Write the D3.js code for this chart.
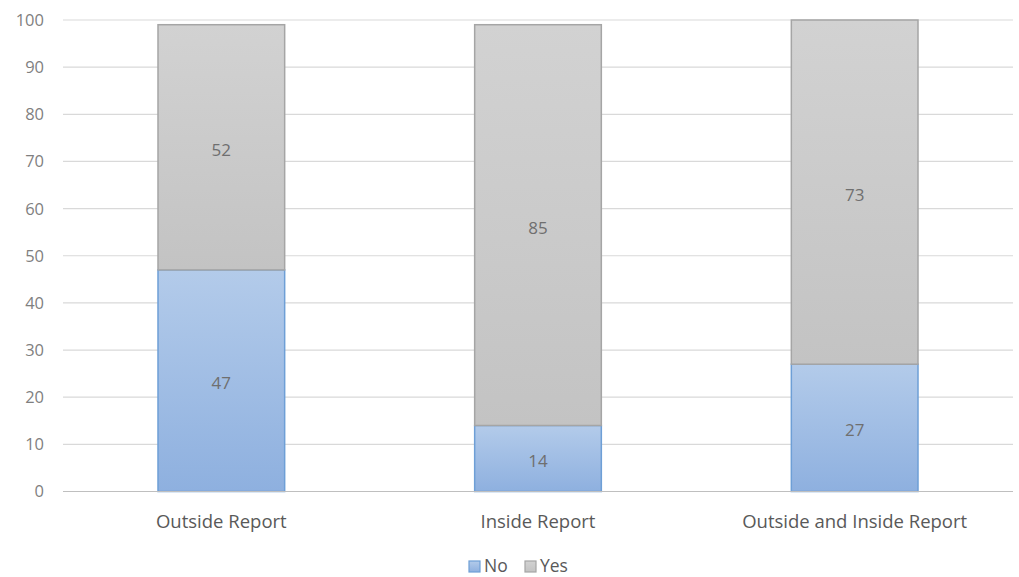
<!DOCTYPE html>
<html>
<head>
<meta charset="utf-8">
<script src="https://cdn.jsdelivr.net/npm/d3@7"></script>
<style>
  html, body { margin: 0; padding: 0; background: #fff; }
  svg { display: block; font-family: "Open Sans", Lato, sans-serif; }
</style>
</head>
<body>
<svg id="chart" width="1019" height="577"></svg>
<script>
const categories = ["Outside Report", "Inside Report", "Outside and Inside Report"];
const noValues = [47, 14, 27];
const yesValues = [52, 85, 73];
const yTicks = [0, 10, 20, 30, 40, 50, 60, 70, 80, 90, 100];
const seriesNames = ["No", "Yes"];

const svg = d3.select("#chart");
const margin = { left: 63, right: 6, top: 20, bottom: 85.5 };
const W = 1019, H = 577;

const x = d3.scaleBand().domain(categories).range([margin.left, W - margin.right]).paddingInner(0.6).paddingOuter(0.3);
const y = d3.scaleLinear().domain([0, 100]).range([H - margin.bottom, margin.top]);

const defs = svg.append("defs");
const blue = defs.append("linearGradient").attr("id", "gBlue").attr("x1", 0).attr("y1", 0).attr("x2", 0).attr("y2", 1);
blue.append("stop").attr("offset", "0%").attr("stop-color", "#b3cbea");
blue.append("stop").attr("offset", "100%").attr("stop-color", "#8eb0df");
const gray = defs.append("linearGradient").attr("id", "gGray").attr("x1", 0).attr("y1", 0).attr("x2", 0).attr("y2", 1);
gray.append("stop").attr("offset", "0%").attr("stop-color", "#d2d2d2");
gray.append("stop").attr("offset", "100%").attr("stop-color", "#c3c3c3");

// gridlines
svg.append("g").selectAll("line").data(yTicks.filter(d => d > 0)).join("line")
  .attr("x1", margin.left).attr("x2", W - margin.right)
  .attr("y1", d => y(d)).attr("y2", d => y(d))
  .attr("stroke", "#d9d9d9").attr("stroke-width", 1.2);

// y axis labels
svg.append("g").selectAll("text").data(yTicks).join("text")
  .attr("x", 44).attr("y", d => y(d)).attr("dy", "0.36em")
  .attr("text-anchor", "end").attr("fill", "#7f7f7f").attr("font-size", 16.5)
  .text(d => d);

const stacked = categories.map((c, i) => ({ c, no: noValues[i], yes: yesValues[i] }));

// No segments
svg.append("g").selectAll("rect").data(stacked).join("rect")
  .attr("x", d => x(d.c)).attr("width", x.bandwidth())
  .attr("y", d => y(d.no)).attr("height", d => y(0) - y(d.no))
  .attr("fill", "url(#gBlue)").attr("stroke", "#6e9fd6").attr("stroke-width", 1.5);

// Yes segments
svg.append("g").selectAll("rect").data(stacked).join("rect")
  .attr("x", d => x(d.c)).attr("width", x.bandwidth())
  .attr("y", d => y(d.no + d.yes)).attr("height", d => y(d.no) - y(d.no + d.yes))
  .attr("fill", "url(#gGray)").attr("stroke", "#a5a5a5").attr("stroke-width", 1.5);

// x axis line
svg.append("line").attr("x1", margin.left).attr("x2", W - margin.right)
  .attr("y1", y(0)).attr("y2", y(0)).attr("stroke", "#bfbfbf").attr("stroke-width", 1.2);

// value labels
const labelG = svg.append("g").attr("fill", "#6f6f6f").attr("font-size", 17).attr("text-anchor", "middle");
labelG.selectAll("text.no").data(stacked).join("text").attr("class", "no")
  .attr("x", d => x(d.c) + x.bandwidth() / 2).attr("y", d => y(d.no / 2) + 2.5).attr("dy", "0.36em")
  .text(d => d.no);
labelG.selectAll("text.yes").data(stacked).join("text").attr("class", "yes")
  .attr("x", d => x(d.c) + x.bandwidth() / 2).attr("y", d => y(d.no + d.yes / 2) + 2.5).attr("dy", "0.36em")
  .text(d => d.yes);

// category labels
svg.append("g").selectAll("text").data(categories).join("text")
  .attr("x", d => x(d) + x.bandwidth() / 2).attr("y", 521).attr("dy", "0.36em")
  .attr("text-anchor", "middle").attr("fill", "#595959").attr("font-size", 18.5)
  .text(d => d);

// legend
const legend = svg.append("g");
const legendItems = [
  { name: seriesNames[0], fill: "url(#gBlue)", stroke: "#6e9fd6", x: 469 },
  { name: seriesNames[1], fill: "url(#gGray)", stroke: "#a5a5a5", x: 525 }
];
legendItems.forEach(it => {
  legend.append("rect").attr("x", it.x).attr("y", 561).attr("width", 11).attr("height", 11)
    .attr("fill", it.fill).attr("stroke", it.stroke).attr("stroke-width", 1.2);
  legend.append("text").attr("x", it.x + 15).attr("y", 566).attr("dy", "0.36em")
    .attr("fill", "#595959").attr("font-size", 17.5).text(it.name);
});
</script>
</body>
</html>
